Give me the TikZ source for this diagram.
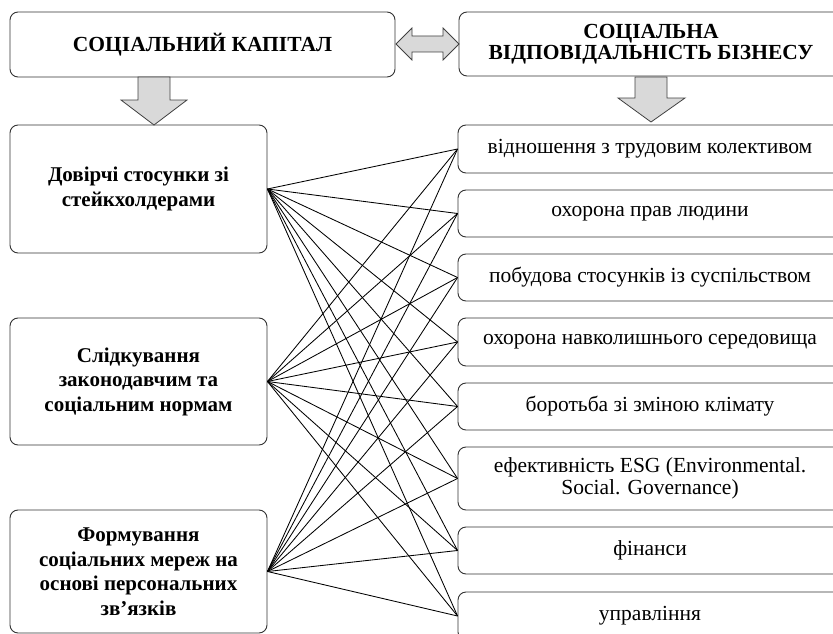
\documentclass[tikz,border=0pt]{standalone}
\usepackage{fontspec}
\setmainfont{Liberation Serif}
\begin{document}
\begin{tikzpicture}[x=1pt,y=-1pt,
  box/.style={draw=black!80, line width=0.9pt, rounded corners=8pt, fill=white, inner sep=0pt, align=center},
  titlebox/.style={box, font=\fontsize{21.5}{21}\selectfont\bfseries},
  leftbox/.style={box, minimum width=257pt, font=\fontsize{21}{24.5}\selectfont\bfseries},
  rightbox/.style={box, minimum width=384pt, font=\fontsize{21.5}{22}\selectfont},
  link/.style={draw=black, line width=0.85pt},
  bigarrow/.style={draw=black!75, line width=0.8pt, fill=black!15}]
\useasboundingbox (0,0) rectangle (833,634);
\begin{scope}
\clip (0,0) rectangle (833,634);
% top boxes
\node[titlebox, minimum width=385pt, minimum height=65pt] (tl) at (202.5,44.5) {СОЦІАЛЬНИЙ КАПІТАЛ};
\node[titlebox, minimum width=384pt, minimum height=64pt] (tr) at (651,44) {СОЦІАЛЬНА\\ВІДПОВІДАЛЬНІСТЬ БІЗНЕСУ};
% left boxes
\node[leftbox, minimum height=128pt] (l1) at (138.5,189) {Довірчі стосунки зі\\стейкхолдерами};
\node[leftbox, minimum height=127pt] (l2) at (138.5,381.5) {Слідкування\\законодавчим та\\соціальним нормам};
\node[leftbox, minimum height=123pt] (l3) at (138.5,571.5) {Формування\\соціальних мереж на\\основі персональних\\зв’язків};
% right boxes
\node[rightbox, minimum height=48pt] (r1) at (650,149) {відношення з трудовим колективом};
\node[rightbox, minimum height=47pt] (r2) at (650,213.5) {охорона прав людини};
\node[rightbox, minimum height=47pt] (r3) at (650,277.5) {побудова стосунків із суспільством};
\node[rightbox, minimum height=48pt] (r4) at (650,342) {охорона навколишнього середовища};
\node[rightbox, minimum height=47pt] (r5) at (650,406.5) {боротьба зі зміною клімату};
\node[rightbox, minimum height=63pt] (r6) at (650,478.5) {ефективність ESG (Environmental.\\Social. Governance)};
\node[rightbox, minimum height=47pt] (r7) at (650,550.5) {фінанси};
\node[rightbox, minimum height=48pt] (r8) at (650,616) {управління};
% links
\foreach \l in {l1,l2,l3}{
  \foreach \r in {r1,r2,r3,r4,r5,r6,r7,r8}{
    \draw[link] (\l.east) -- (\r.west);
  }
}
% block arrows
\draw[bigarrow] (138,77) -- (170,77) -- (170,100) -- (187,100) -- (154,125) -- (121,100) -- (138,100) -- cycle;
\draw[bigarrow] (635,77) -- (667,77) -- (667,98) -- (685,98) -- (651,122) -- (618,98) -- (635,98) -- cycle;
\draw[bigarrow] (396,44) -- (412,28) -- (412,36) -- (443,36) -- (443,28) -- (459,44) -- (443,60) -- (443,52) -- (412,52) -- (412,60) -- cycle;
\end{scope}
\end{tikzpicture}
\end{document}
